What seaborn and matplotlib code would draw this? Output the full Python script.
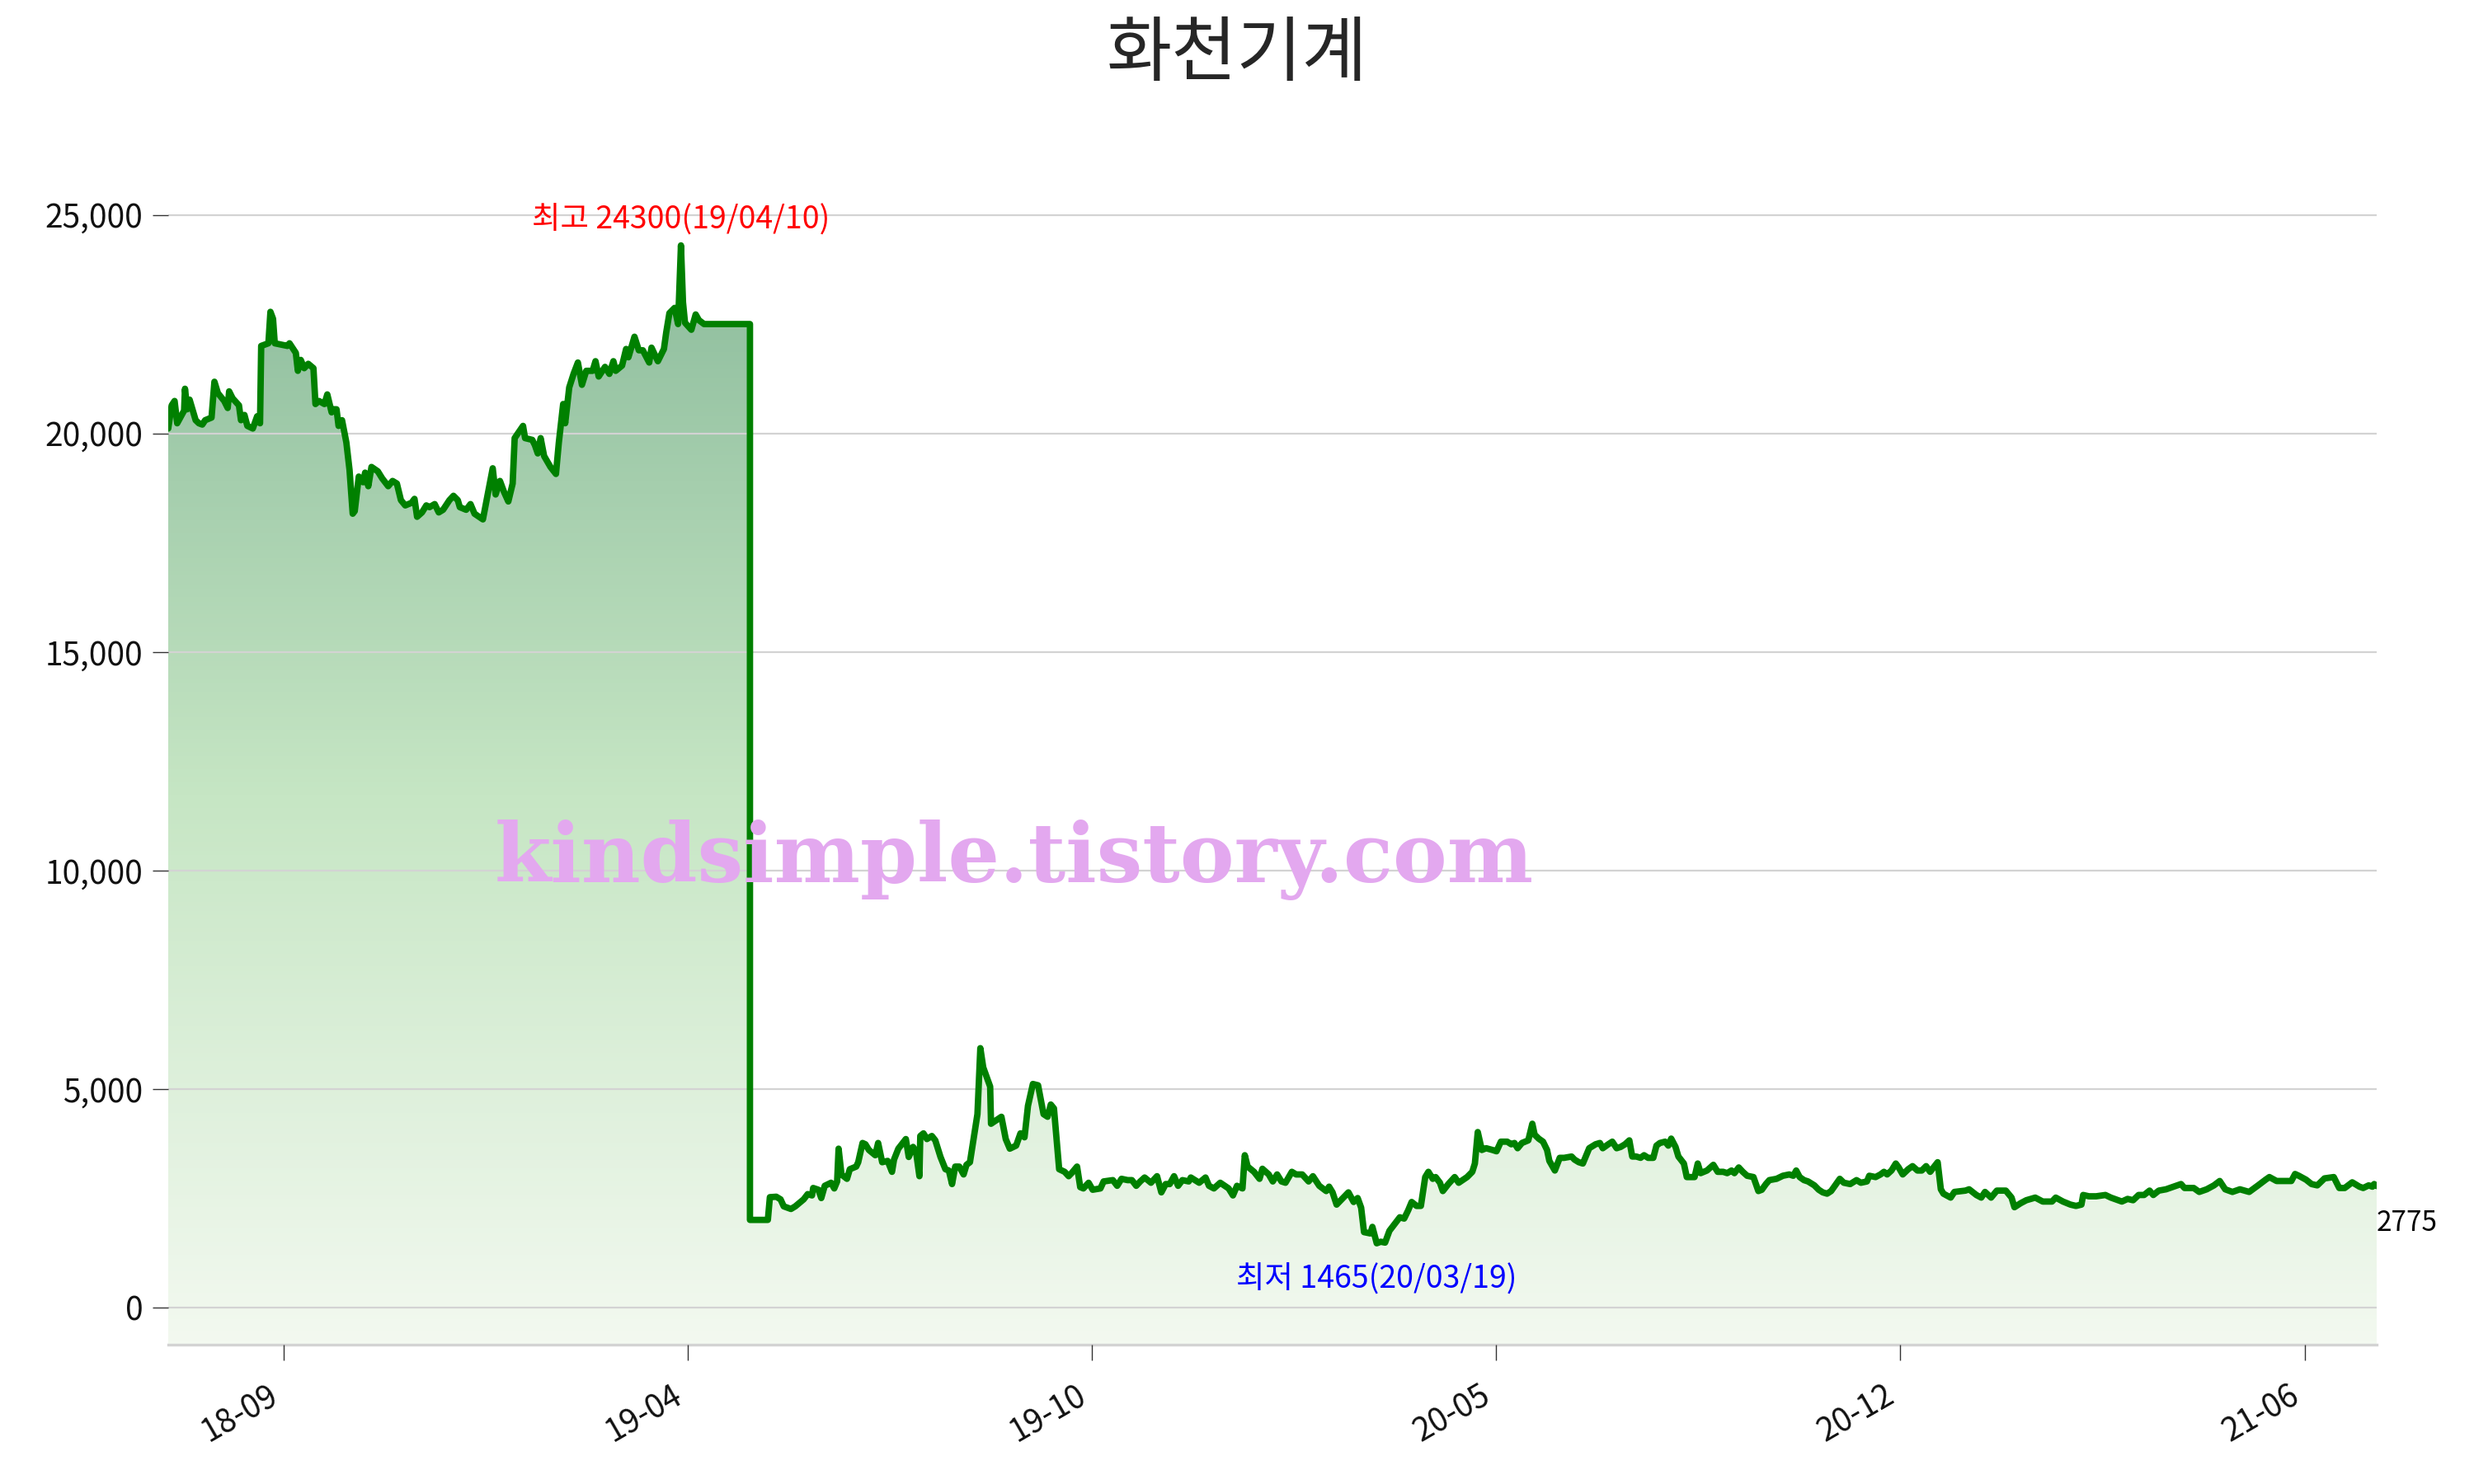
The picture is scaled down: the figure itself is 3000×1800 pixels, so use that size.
import numpy as np
import pandas as pd
import matplotlib
matplotlib.use("Agg")
import matplotlib.pyplot as plt
import seaborn as sns
from matplotlib.colors import LinearSegmentedColormap
from matplotlib.patches import Polygon
from matplotlib.ticker import FuncFormatter

# -----------------------------
# Data: trading-day index / close price
# -----------------------------
# 2018-07 ~ 2019-05 (incl. trading halt at 22500)
day_a = [0, 1.2, 2.2, 3.1, 5.5, 5.8, 6.6, 7.4, 9.5, 10.6,
         11.8, 12.8, 15.0, 16.0, 17.2, 19.4, 20.6, 21.1, 22.3, 24.5,
         25.2, 26.4, 27.4, 29.3, 30.8, 31.8, 32.2, 34.7, 35.4, 36.3,
         36.9, 41.3, 42.0, 44.2, 44.9, 45.9, 47.1, 48.5, 50.3, 51.0,
         52.2, 54.1, 55.1, 56.6, 57.3, 58.3, 59.0, 60.2, 61.7, 62.8,
         63.9, 64.6, 66.0, 67.5, 68.2, 69.3, 70.4, 72.6, 74.1, 76.2,
         77.7, 79.2, 80.6, 82.1, 84.3, 85.3, 86.2, 87.9, 89.4, 90.5,
         92.3, 93.7, 95.2, 97.4, 98.8, 100.3, 101.0, 103.2, 104.7, 106.1,
         109.0, 111.2, 112.4, 113.4, 114.9, 116.3, 117.8, 119.3, 120.0, 122.9,
         123.6, 126.1, 127.0, 128.0, 129.0, 130.2, 132.4, 134.3, 135.3, 136.8,
         137.5, 138.9, 140.4, 141.9, 143.3, 144.8, 147.0, 148.0, 149.1, 151.3,
         152.8, 154.2, 155.0, 157.2, 158.6, 159.4, 161.5, 163.0, 164.4, 166.6,
         167.4, 169.6, 171.7, 172.5, 173.6, 175.4, 176.6, 177.6, 178.3, 179.0,
         181.2, 182.7, 183.8, 185.6, 201.5]
price_a = [20110, 20640, 20740, 20230, 20520, 21020, 20550, 20770, 20300, 20230,
           20200, 20300, 20360, 21180, 20920, 20740, 20580, 20960, 20800, 20640,
           20300, 20420, 20170, 20110, 20390, 20230, 22000, 22060, 22780, 22620,
           22060, 22000, 22060, 21840, 21430, 21680, 21490, 21590, 21490, 20670,
           20740, 20670, 20890, 20480, 20550, 20550, 20170, 20300, 19790, 19160,
           18160, 18220, 19010, 18880, 19100, 18790, 19230, 19130, 18970, 18790,
           18910, 18850, 18470, 18350, 18410, 18500, 18090, 18190, 18350, 18310,
           18380, 18190, 18250, 18470, 18570, 18470, 18310, 18250, 18380, 18160,
           18030, 18790, 19200, 18600, 18910, 18660, 18440, 18850, 19890, 20170,
           19890, 19850, 19730, 19540, 19890, 19480, 19230, 19070, 19790, 20670,
           20230, 21050, 21360, 21620, 21110, 21430, 21430, 21650, 21300, 21520,
           21360, 21650, 21430, 21550, 21930, 21740, 22210, 21900, 21900, 21620,
           21960, 21650, 21930, 22310, 22750, 22870, 22500, 24300, 23000, 22530,
           22370, 22720, 22590, 22500, 22500]

# 2019-05 ~ 2020-02
day_b = [201.5, 207.7, 208.4, 210.6, 212.1, 213.2, 215.7, 217.2, 220.1, 221.5,
         223.0, 223.4, 225.2, 226.2, 227.4, 229.6, 230.7, 231.7, 232.2, 233.2,
         235.1, 236.1, 238.3, 239.0, 240.5, 241.5, 242.7, 244.9, 245.9, 247.3,
         249.2, 250.7, 251.4, 252.9, 255.5, 256.5, 258.0, 259.0, 260.2, 260.5,
         261.6, 262.8, 264.5, 265.7, 267.5, 269.2, 270.4, 271.5, 272.6, 274.0,
         275.5, 276.5, 277.7, 280.3, 281.3, 282.3, 284.7, 285.0, 288.6, 290.1,
         291.5, 293.7, 295.2, 296.6, 297.8, 299.5, 301.3, 303.2, 304.6, 305.7,
         306.8, 308.6, 310.5, 311.9, 312.9, 314.8, 315.9, 317.0, 318.8, 320.2,
         322.9, 324.0, 327.2, 328.7, 330.2, 332.3, 333.8, 335.3, 336.7, 338.2,
         340.4, 342.5, 344.0, 345.5, 346.9, 348.4, 349.8, 351.3, 353.5, 354.2,
         357.1, 359.3, 360.5, 362.2, 364.4, 367.3, 368.8, 370.2, 372.1, 372.9,
         373.9, 376.1, 378.0, 379.0, 381.2, 382.6, 384.1, 385.6, 387.0, 389.2,
         390.7, 392.8, 395.0, 396.5, 398.7]
price_b = [2000, 2000, 2520, 2530, 2470, 2310, 2250, 2310, 2470, 2590,
           2560, 2730, 2690, 2500, 2780, 2850, 2720, 2880, 3630, 3040,
           2940, 3160, 3220, 3320, 3760, 3730, 3600, 3480, 3760, 3320,
           3350, 3100, 3380, 3630, 3850, 3440, 3670, 3570, 3000, 3920,
           3980, 3850, 3920, 3820, 3440, 3160, 3130, 2820, 3220, 3220,
           3040, 3260, 3320, 4420, 5930, 5490, 5050, 4200, 4360, 3850,
           3630, 3700, 3980, 3890, 4610, 5110, 5080, 4420, 4360, 4640,
           4550, 3160, 3100, 3000, 3070, 3220, 2750, 2720, 2850, 2690,
           2720, 2880, 2910, 2780, 2940, 2910, 2910, 2780, 2880, 2970,
           2850, 3000, 2630, 2820, 2820, 3000, 2780, 2910, 2880, 2970,
           2850, 2970, 2780, 2720, 2850, 2720, 2560, 2780, 2720, 3480,
           3220, 3100, 2940, 3170, 3040, 2880, 3040, 2880, 2850, 3100,
           3040, 3040, 2880, 3000, 2780]

# 2020-02 ~ 2021-01
day_c = [401.1, 402.1, 403.3, 404.7, 406.9, 408.8, 410.6, 412.0, 413.2, 414.2,
         416.4, 417.1, 418.6, 420.0, 421.5, 423.0, 424.4, 426.6, 428.1, 429.5,
         430.7, 432.4, 433.9, 435.4, 436.5, 438.0, 439.0, 440.5, 441.5, 443.4,
         445.6, 447.0, 449.9, 451.7, 452.6, 453.6, 455.0, 456.5, 458.7, 460.1,
         461.6, 463.8, 465.2, 466.3, 467.4, 468.9, 471.1, 472.5, 473.3, 474.7,
         476.2, 477.6, 478.4, 480.3, 482.0, 483.5, 486.1, 487.1, 488.6, 490.0,
         491.0, 492.2, 494.4, 495.9, 496.9, 498.8, 500.2, 501.7, 503.1, 504.6,
         506.1, 507.1, 508.5, 510.0, 511.2, 512.6, 514.4, 515.5, 516.7, 518.5,
         519.6, 520.6, 522.1, 523.1, 525.0, 526.0, 528.7, 529.8, 530.8, 533.0,
         535.2, 536.7, 538.6, 540.0, 541.5, 542.5, 544.0, 545.4, 546.9, 549.1,
         550.8, 552.0, 553.4, 554.6, 557.1, 559.3, 561.5, 562.9, 563.9, 565.1,
         566.6, 568.0, 570.2, 571.7, 573.1, 574.6, 576.0, 579.0, 580.4, 582.6,
         584.8, 586.3, 588.4, 589.2, 591.4, 593.1, 594.3, 595.4, 596.9, 598.4,
         599.4, 600.8, 602.7, 604.2, 605.9, 607.4, 608.9, 610.3, 612.9]
price_c = [2660, 2760, 2630, 2350, 2500, 2630, 2410, 2500, 2280, 1720,
           1690, 1840, 1465, 1500, 1480, 1750, 1870, 2060, 2030, 2220,
           2410, 2320, 2320, 2980, 3100, 2940, 2980, 2850, 2660, 2820,
           2980, 2850, 2980, 3100, 3290, 4010, 3600, 3640, 3600, 3570,
           3790, 3790, 3730, 3760, 3640, 3760, 3820, 4200, 3950, 3860,
           3790, 3600, 3350, 3130, 3420, 3420, 3450, 3380, 3320, 3290,
           3450, 3640, 3730, 3760, 3640, 3730, 3790, 3640, 3670, 3730,
           3820, 3450, 3450, 3420, 3480, 3420, 3420, 3700, 3760, 3790,
           3700, 3860, 3670, 3450, 3290, 2980, 2980, 3290, 3070, 3130,
           3260, 3100, 3100, 3070, 3130, 3070, 3200, 3100, 3010, 2980,
           2660, 2690, 2820, 2910, 2940, 3010, 3040, 3010, 3130, 2980,
           2910, 2880, 2790, 2690, 2630, 2600, 2660, 2940, 2850, 2820,
           2910, 2850, 2880, 3010, 2980, 3040, 3100, 3040, 3130, 3290,
           3200, 3040, 3160, 3230, 3130, 3130, 3230, 3100, 3320]

# 2021-01 ~ 2021-08
day_d = [614.0, 614.9, 617.4, 618.7, 622.5, 623.8, 626.3, 628.0, 629.3, 631.4,
         633.4, 636.5, 638.5, 639.5, 641.6, 643.6, 646.7, 649.3, 652.5, 653.8,
         656.3, 658.9, 660.8, 662.7, 663.3, 665.3, 667.8, 671.0, 672.9, 676.7,
         678.7, 680.6, 682.5, 684.4, 686.3, 687.6, 689.5, 692.0, 694.6, 697.2,
         698.4, 701.6, 703.5, 706.1, 708.6, 710.6, 712.5, 715.0, 717.6, 720.8,
         723.9, 726.5, 727.8, 730.3, 732.9, 735.4, 736.7, 738.0, 740.5, 742.4,
         744.4, 746.9, 750.1, 752.0, 753.9, 756.5, 759.0, 760.3, 762.2, 763.5,
         764.1, 765.0]
price_d = [2700, 2600, 2510, 2640, 2670, 2700, 2570, 2510, 2640, 2510,
           2670, 2670, 2510, 2290, 2380, 2450, 2510, 2420, 2420, 2510,
           2420, 2350, 2320, 2350, 2570, 2540, 2540, 2570, 2510, 2420,
           2480, 2450, 2570, 2570, 2670, 2570, 2670, 2700, 2760, 2820,
           2730, 2730, 2640, 2700, 2790, 2890, 2700, 2640, 2700, 2640,
           2790, 2920, 2980, 2890, 2890, 2890, 3050, 3010, 2920, 2820,
           2790, 2950, 2980, 2730, 2730, 2860, 2760, 2730, 2790, 2760,
           2820, 2775]

tick_days = [40, 180, 320, 460, 600, 740]
tick_labels = ["18-09", "19-04", "19-10", "20-05", "20-12", "21-06"]
peak_date = "19/04/10"
low_date = "20/03/19"
stock_name = "화천기계"
watermark = "kindsimple.tistory.com"

day = day_a + day_b + day_c + day_d
price = price_a + price_b + price_c + price_d
df = pd.DataFrame({"day": day, "price": price})

# -----------------------------
# Style
# -----------------------------
sns.set_theme(style="white")
plt.rcParams["font.family"] = ["Noto Sans CJK KR", "DejaVu Sans"]

fig = plt.figure(figsize=(15, 9), dpi=200)
ax = fig.add_axes([0.068, 0.0939, 0.8927, 0.8117])

x_lo, x_hi = 0, 765
y_lo, y_hi = -855, 26710

# gradient fill under the line
cmap = LinearSegmentedColormap.from_list("fade", ["#f3f9f0", "#c6e6c4", "#8cbc9c"])
grad = np.linspace(0, 1, 256).reshape(-1, 1)
im = ax.imshow(grad, cmap=cmap, aspect="auto", origin="lower",
               extent=[x_lo, x_hi, y_lo, max(price)], zorder=1)
verts = [(day[0], y_lo)] + list(zip(day, price)) + [(day[-1], y_lo)]
clip = Polygon(verts, closed=True, facecolor="none", edgecolor="none",
               transform=ax.transData)
ax.add_patch(clip)
im.set_clip_path(clip)

sns.lineplot(data=df, x="day", y="price", color="green", lw=2.8,
             sort=False, estimator=None, ax=ax, zorder=3)

ax.set_xlim(x_lo, x_hi)
ax.set_ylim(y_lo, y_hi)
ax.set_xlabel("")
ax.set_ylabel("")

ax.set_yticks([0, 5000, 10000, 15000, 20000, 25000])
ax.yaxis.set_major_formatter(FuncFormatter(lambda v, p: f"{int(v):,}"))
ax.set_xticks(tick_days)
ax.set_xticklabels(tick_labels, rotation=30, ha="right")

ax.yaxis.grid(True, color="#d3d3d3", lw=0.8)
ax.xaxis.grid(False)
ax.set_axisbelow(False)

for s in ["left", "top", "right"]:
    ax.spines[s].set_visible(False)
ax.spines["bottom"].set_color("#d3d3d3")
ax.spines["bottom"].set_linewidth(1.2)

ax.tick_params(axis="both", which="major", labelsize=14, labelcolor="#111111",
               color="#333333", length=7, width=0.5, pad=4,
               bottom=True, left=True)
ax.tick_params(axis="x", pad=8)

# -----------------------------
# Annotations
# -----------------------------
i_max = int(np.argmax(price))
i_min = int(np.argmin(price))
ax.annotate(f"최고 {price[i_max]}({peak_date})", xy=(day[i_max], price[i_max]),
            xytext=(0, 4), textcoords="offset points", ha="center", va="bottom",
            color="red", fontsize=13.5, zorder=6)
ax.annotate(f"최저 {price[i_min]}({low_date})", xy=(day[i_min], price[i_min]),
            xytext=(0, -9), textcoords="offset points", ha="center", va="top",
            color="blue", fontsize=13.5, zorder=6)
ax.annotate(f"{price[-1]}", xy=(day[-1], price[-1]),
            xytext=(0, -10), textcoords="offset points", ha="left", va="top",
            color="black", fontsize=12, annotation_clip=False, zorder=6)

ax.text(0.383, 0.4025, watermark, transform=ax.transAxes, ha="center",
        va="center", fontsize=35.5, fontweight="bold", family="DejaVu Serif",
        color="#e3a8ef", zorder=5)

fig.suptitle(stock_name, fontsize=31, y=0.963, va="center")

fig.savefig("out.png", dpi=200)
plt.close()
